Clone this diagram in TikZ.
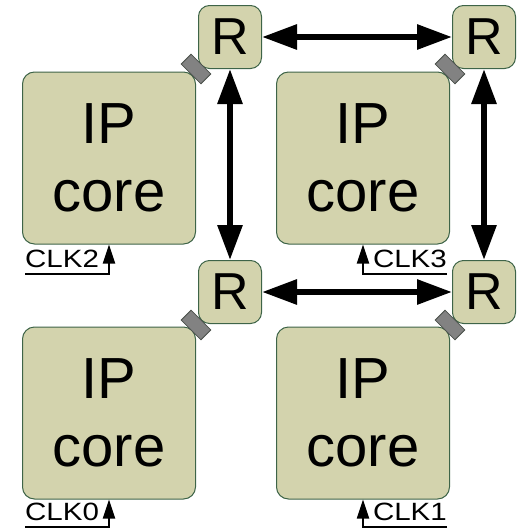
\documentclass[tikz,border=0pt]{standalone}
\usepackage{fontspec}
\setmainfont{Liberation Sans}
\newfontfamily\clkfont[FakeStretch=1.18]{Liberation Sans}
\usepackage{xcolor}
\definecolor{oliva}{RGB}{211,211,173}
\definecolor{verde}{RGB}{62,100,72}
\definecolor{cinza}{RGB}{130,130,130}
\definecolor{cinzaesc}{RGB}{75,80,75}
\usepackage{tikz}
\usetikzlibrary{arrows.meta}

\begin{document}
\begin{tikzpicture}[
    x=1pt, y=-1pt,
    core/.style={rectangle, rounded corners=12pt, draw=verde, fill=oliva,
                 line width=1pt, minimum width=173pt, minimum height=172pt,
                 align=center, font=\fontsize{58}{68}\selectfont},
    router/.style={rectangle, rounded corners=11pt, draw=verde, fill=oliva,
                   line width=1pt, minimum size=63pt, inner sep=0pt,
                   font=\fontsize{52}{52}\selectfont},
    port/.style={rectangle, draw=cinzaesc, fill=cinza, line width=0.8pt,
                 minimum width=28pt, minimum height=14pt, inner sep=0pt,
                 rotate=-45},
    link/.style={{Triangle[length=35pt 0 0,width=24pt 0 0]}-{Triangle[length=35pt 0 0,width=24pt 0 0]},
                 line width=6pt},
    clklabel/.style={inner xsep=0pt, inner ysep=6pt,
                     font=\clkfont\fontsize{25}{25}\selectfont},
    clk/.style={-{Triangle[length=19pt 0 0,width=12pt 0 0]}, line width=1.8pt}
  ]
  \useasboundingbox (0,0) rectangle (518,530);

  % IP cores
  \node[core] (core2) at (109,158) {IP\\core};
  \node[core] (core3) at (363,158) {IP\\core};
  \node[core] (core0) at (109,413) {IP\\core};
  \node[core] (core1) at (363,413) {IP\\core};

  % Routers
  \node[router] (r2) at (230,37)  {R};
  \node[router] (r3) at (484,37)  {R};
  \node[router] (r0) at (230,292) {R};
  \node[router] (r1) at (484,292) {R};

  % Network interfaces (core <-> router)
  \node[port] (p2) at (196,69)  {};
  \node[port] (p3) at (450,69)  {};
  \node[port] (p0) at (196,325) {};
  \node[port] (p1) at (450,325) {};

  % Links between routers
  \draw[link] (r2) -- (r3);
  \draw[link] (r0) -- (r1);
  \draw[link] (r2) -- (r0);
  \draw[link] (r3) -- (r1);

  % Clock inputs
  \node[clklabel, anchor=south west] (clk2) at (25,274)  {CLK2};
  \node[clklabel, anchor=south east] (clk3) at (447,274) {CLK3};
  \node[clklabel, anchor=south west] (clk0) at (25,527)  {CLK0};
  \node[clklabel, anchor=south east] (clk1) at (447,527) {CLK1};
  \draw[clk] (clk2.south west) -| (core2.south);
  \draw[clk] (clk3.south east) -| (core3.south);
  \draw[clk] (clk0.south west) -| (core0.south);
  \draw[clk] (clk1.south east) -| (core1.south);
\end{tikzpicture}
\end{document}
